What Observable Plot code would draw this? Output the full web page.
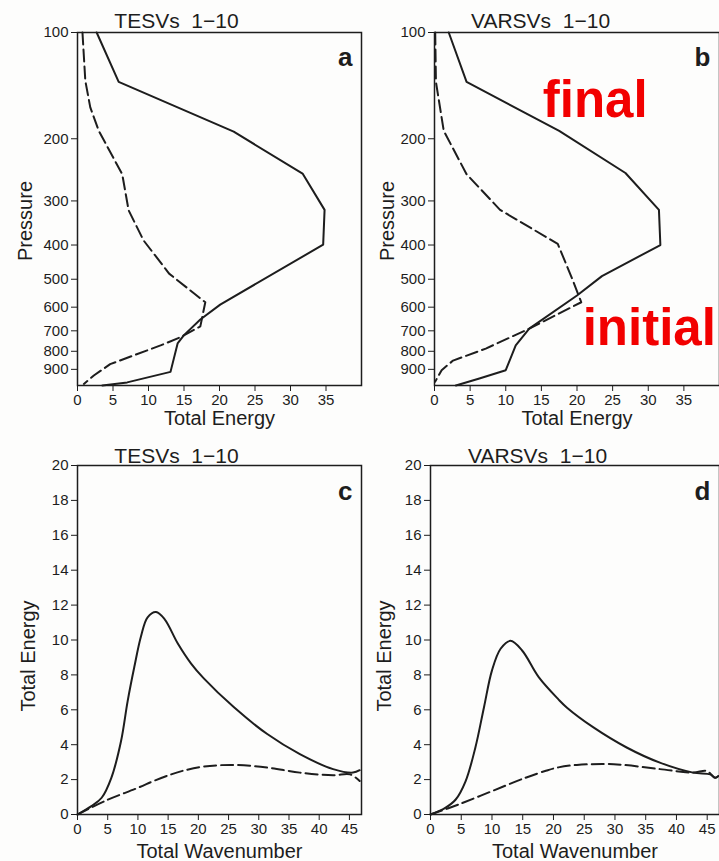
<!DOCTYPE html>
<html><head><meta charset="utf-8">
<script src="https://cdn.jsdelivr.net/npm/d3@7"></script>
<script src="https://cdn.jsdelivr.net/npm/@observablehq/plot@0.6"></script>
<style>
body{margin:0;background:#fff;}
#wrap{position:relative;width:719px;height:861px;overflow:hidden;background:#fdfdfc;}
.panel{position:absolute;}
</style></head><body><div id="wrap"></div>
<script>
// ---------- tick labels ----------
const pressureTicks = [100, 200, 300, 400, 500, 600, 700, 800, 900];
const energyTicks = [0, 5, 10, 15, 20, 25, 30, 35];
const wavenumberTicks = [0, 5, 10, 15, 20, 25, 30, 35, 40, 45];
const spectrumTicks = [0, 2, 4, 6, 8, 10, 12, 14, 16, 18, 20];

// ---------- panel titles ----------
const titles = ["TESVs\u00a0 1\u221210", "VARSVs\u00a0 1\u221210", "TESVs\u00a0 1\u221210", "VARSVs\u00a0 1\u221210"];
const letters = ["a", "b", "c", "d"];

// ---------- panel a: TESVs vertical profile ----------
const aFinalE = [2.7, 5.8, 22, 31.7, 34.8, 34.6, 20.1, 17.3, 15.0, 14.1, 13.1, 7.0, 3.5];
const aFinalP = [100, 138, 191, 251, 318, 399, 590, 650, 720, 760, 915, 980, 1000];
const aInitE = [0.7, 1.1, 1.8, 3.0, 6.3, 7.2, 9.3, 12.9, 18.0, 17.3, 14.5, 11.7, 4.6, 2.3, 0.9];
const aInitP = [100, 137, 163, 190, 252, 319, 388, 482, 581, 680, 730, 770, 870, 937, 990];

// ---------- panel b: VARSVs vertical profile ----------
const bFinalE = [2.0, 4.5, 17.5, 26.8, 31.5, 31.7, 23.5, 20.0, 13.3, 11.4, 10.0, 6.3, 3.0];
const bFinalP = [100, 138, 190, 250, 318, 400, 490, 556, 690, 770, 905, 955, 1000];
const bInitE = [0.1, 0.2, 1.3, 4.5, 9.2, 17.3, 19.4, 20.6, 13.3, 7.2, 2.6, 1.0, 0.1];
const bInitP = [100, 138, 190, 252, 318, 397, 503, 581, 690, 786, 850, 905, 975];

// annotations on panel b
const annText = ["final", "initial"];
const annE = [15.2, 20.8];
const annP = [174, 770];

// ---------- panel c: TESVs spectrum ----------
const cFinalK = [0, 2.3, 4, 5.6, 7.2, 8.3, 9.4, 10.5, 11.6, 13, 14.4, 16.6, 18.8, 20.9, 25.9, 31.4, 36.8, 42.3, 45.6, 46.7];
const cFinalE = [0, 0.48, 0.96, 2.1, 4.2, 6.5, 8.45, 10.2, 11.3, 11.6, 11.2, 9.8, 8.65, 7.8, 6.14, 4.61, 3.46, 2.6, 2.4, 2.54];
const cInitK = [0, 4.5, 10, 12.8, 15.5, 17.6, 20.9, 25.9, 31.4, 36.8, 42.3, 45.1, 46.7];
const cInitE = [0, 0.77, 1.53, 1.95, 2.3, 2.52, 2.75, 2.84, 2.69, 2.4, 2.25, 2.3, 1.92];

// ---------- panel d: VARSVs spectrum ----------
const dFinalK = [0, 2.4, 4.1, 5.7, 7.3, 8.7, 10, 11.4, 13, 14.9, 17.6, 20.8, 22.2, 26.5, 31.9, 37.3, 42.7, 45.5, 46.3, 46.8];
const dFinalE = [0, 0.38, 0.86, 1.9, 3.84, 6.15, 8.26, 9.5, 9.95, 9.4, 7.87, 6.6, 6.12, 4.99, 3.84, 2.97, 2.4, 2.3, 2.1, 2.2];
const dInitK = [0, 4.6, 10, 15.4, 18.9, 20.8, 23.8, 29.8, 37.3, 42.7, 44.9, 46.3, 46.8];
const dInitE = [0, 0.58, 1.34, 2.1, 2.52, 2.7, 2.84, 2.88, 2.6, 2.4, 2.5, 2.1, 2.2];

// ---------- drawing ----------
const FONT = "'Liberation Sans', Arial, Helvetica, sans-serif";
const INK = "#1d1d1d";
const DASH = "12,5";

function place(svg, left, top) {
  const d = document.createElement("div");
  d.className = "panel";
  d.style.left = left + "px";
  d.style.top = top + "px";
  d.appendChild(svg);
  document.getElementById("wrap").appendChild(d);
}

function profile(o) {
  const fin = o.finalE.map((e, i) => ({e, p: o.finalP[i]}));
  const ini = o.initE.map((e, i) => ({e, p: o.initP[i]}));
  return Plot.plot({
    width: o.width, height: 440,
    marginLeft: o.ml, marginRight: o.mr, marginTop: 32, marginBottom: 55,
    style: {fontFamily: FONT, fontSize: "15px", color: INK, background: "transparent", overflow: "visible"},
    x: {domain: [0, 40], ticks: energyTicks, label: null},
    y: {type: "log", domain: [1000, 100], ticks: pressureTicks, tickFormat: d => String(d), label: null},
    marks: [
      Plot.frame({stroke: INK, strokeWidth: 1.5}),
      Plot.line(fin, {x: "e", y: "p", stroke: INK, strokeWidth: 2}),
      Plot.line(ini, {x: "e", y: "p", stroke: INK, strokeWidth: 2, strokeDasharray: DASH}),
      Plot.text([o.title], {frameAnchor: "top-left", dx: o.titleDx, dy: -5, textAnchor: "middle", lineAnchor: "bottom", fontSize: 21, fill: INK}),
      Plot.text([o.letter], {frameAnchor: "top-right", dx: -9, dy: 15, lineAnchor: "top", textAnchor: "end", fontSize: 26, fontWeight: "bold", fill: INK}),
      Plot.text(["Pressure"], {frameAnchor: "left", dx: o.ylabDx, dy: 12, rotate: -90, textAnchor: "middle", lineAnchor: "middle", fontSize: 20, fill: INK}),
      Plot.text(["Total Energy"], {frameAnchor: "bottom", dy: 33, textAnchor: "middle", lineAnchor: "middle", fontSize: 20, fill: INK}),
      ...(o.extra || [])
    ]
  });
}

function spectrum(o) {
  const fin = o.finalK.map((k, i) => ({k, e: o.finalE[i]}));
  const ini = o.initK.map((k, i) => ({k, e: o.initE[i]}));
  return Plot.plot({
    width: o.width, height: 421,
    marginLeft: o.ml, marginRight: o.mr, marginTop: 25, marginBottom: 47,
    style: {fontFamily: FONT, fontSize: "15px", color: INK, background: "transparent", overflow: "visible"},
    x: {domain: [0, 47], ticks: wavenumberTicks, label: null},
    y: {domain: [0, 20], ticks: spectrumTicks, label: null},
    marks: [
      Plot.frame({stroke: INK, strokeWidth: 1.5}),
      Plot.line(fin, {x: "k", y: "e", stroke: INK, strokeWidth: 2, curve: "catmull-rom"}),
      Plot.line(ini, {x: "k", y: "e", stroke: INK, strokeWidth: 2, strokeDasharray: DASH, curve: "catmull-rom"}),
      Plot.text([o.title], {frameAnchor: "top-left", dx: o.titleDx, dy: -3, textAnchor: "middle", lineAnchor: "bottom", fontSize: 21, fill: INK}),
      Plot.text([o.letter], {frameAnchor: "top-right", dx: -9, dy: 16, lineAnchor: "top", textAnchor: "end", fontSize: 26, fontWeight: "bold", fill: INK}),
      Plot.text(["Total Energy"], {frameAnchor: "left", dx: o.ylabDx, dy: 16, rotate: -90, textAnchor: "middle", lineAnchor: "middle", fontSize: 20, fill: INK}),
      Plot.text(["Total Wavenumber"], {frameAnchor: "bottom", dy: 37, textAnchor: "middle", lineAnchor: "middle", fontSize: 20, fill: INK})
    ]
  });
}

const ann = annText.map((t, i) => ({t, e: annE[i], p: annP[i]}));

place(profile({title: titles[0], letter: letters[0], finalE: aFinalE, finalP: aFinalP, initE: aInitE, initP: aInitP,
  width: 362, ml: 77, mr: 1, titleDx: 99, ylabDx: -52}), 0, 0);

place(profile({title: titles[1], letter: letters[1], finalE: bFinalE, finalP: bFinalP, initE: bInitE, initP: bInitP,
  width: 357, ml: 72, mr: 0, titleDx: 106, ylabDx: -47,
  extra: [Plot.text(ann, {x: "e", y: "p", text: "t", textAnchor: "start", lineAnchor: "bottom",
    fontSize: 51, fontWeight: "bold", fill: "#f20000", fontFamily: "'Liberation Sans', Arial, sans-serif"})]}), 362, 0);

place(spectrum({title: titles[2], letter: letters[2], finalK: cFinalK, finalE: cFinalE, initK: cInitK, initE: cInitE,
  width: 362, ml: 77, mr: 1, titleDx: 99, ylabDx: -49}), 0, 440);

place(spectrum({title: titles[3], letter: letters[3], finalK: dFinalK, finalE: dFinalE, initK: dInitK, initE: dInitE,
  width: 357, ml: 68, mr: 0, titleDx: 107, ylabDx: -46}), 362, 440);
</script>
</body></html>
